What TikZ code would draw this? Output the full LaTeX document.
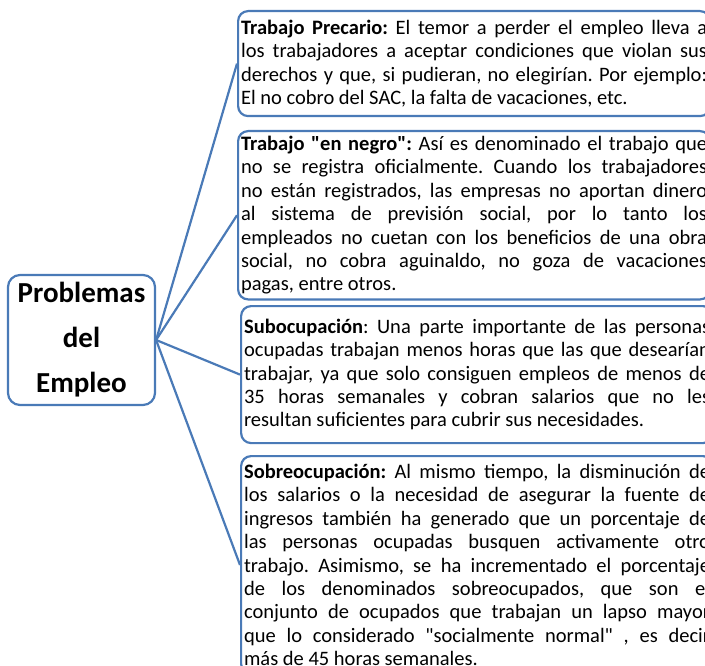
\documentclass[tikz,border=0pt]{standalone}
\usepackage{fontspec}
\setmainfont[Ligatures=TeXOff]{Carlito}
\usetikzlibrary{positioning}
\definecolor{mapblue}{RGB}{74,122,183}
\tikzset{
	topic/.style={draw=mapblue, line width=2.2pt, rounded corners=12pt, align=center,
		font=\fontsize{29}{45}\selectfont\bfseries, minimum width=147pt, minimum height=130pt, inner sep=0pt},
	note/.style={draw=mapblue, line width=2.2pt, rounded corners=10pt, text width=466pt,
		align=justify, font=\fontsize{20.5}{23.4}\selectfont\frenchspacing, inner xsep=3pt, inner ysep=5pt, anchor=north west},
	branch/.style={draw=mapblue, line width=2.2pt}
}

\begin{document}
\begin{tikzpicture}[x=1pt, y=-1pt]
		%%%%% START %%%%%
		\useasboundingbox (0, 0) rectangle (705, 666);
		\clip (0, 0) rectangle (705, 666);
		
		\node[topic] (prob) at (81.5, 340) {Problemas\\del\\Empleo};
		
		\node[note, minimum height=105pt] (precario) at (237, 10) {\textbf{Trabajo Precario:} El temor a perder el empleo lleva a\linebreak los trabajadores a aceptar condiciones que violan sus\linebreak derechos y que, si pudieran, no elegirían. Por ejemplo:\linebreak El no cobro del SAC,  la falta de vacaciones, etc.};
		
		\node[note, minimum height=162pt] (negro) at (237, 130) {\textbf{Trabajo "en negro":} Así es denominado el trabajo que\linebreak no se registra oficialmente. Cuando los trabajadores\linebreak no están registrados, las empresas no aportan dinero\linebreak al sistema de previsión social, por lo tanto los\linebreak empleados no cuetan con los beneficios de una obra\linebreak social, no cobra aguinaldo, no goza de vacaciones\linebreak pagas, entre otros.};
		
		\node[note, minimum height=137pt] (subocup) at (240, 305) {\textbf{Subocupación}: Una parte importante de las personas\linebreak ocupadas trabajan menos horas que las que desearían\linebreak trabajar, ya que solo consiguen empleos de menos de\linebreak 35 horas semanales y cobran salarios que no les\linebreak resultan suficientes para cubrir sus necesidades.};
		
		\node[note, inner ysep=8pt] (sobreocup) at (240, 455) {\textbf{Sobreocupación:}  Al mismo tiempo, la disminución de\linebreak los salarios o la necesidad de asegurar la fuente de\linebreak ingresos también ha generado que un porcentaje de\linebreak las personas ocupadas busquen activamente otro\linebreak trabajo. Asimismo, se ha incrementado el porcentaje\linebreak de los denominados sobreocupados, que son el\linebreak conjunto de ocupados que trabajan un lapso mayor\linebreak que lo considerado "socialmente normal" ,  es decir\linebreak más de 45 horas semanales.};
		
		% ramas desde el tema central
		\draw[branch] (prob.east) -- (precario.west);
		\draw[branch] (prob.east) -- (negro.west);
		\draw[branch] (prob.east) -- (subocup.west);
		\draw[branch] (prob.east) -- (sobreocup.west);
		
		%%%%% END %%%%%
\end{tikzpicture}
\end{document}
